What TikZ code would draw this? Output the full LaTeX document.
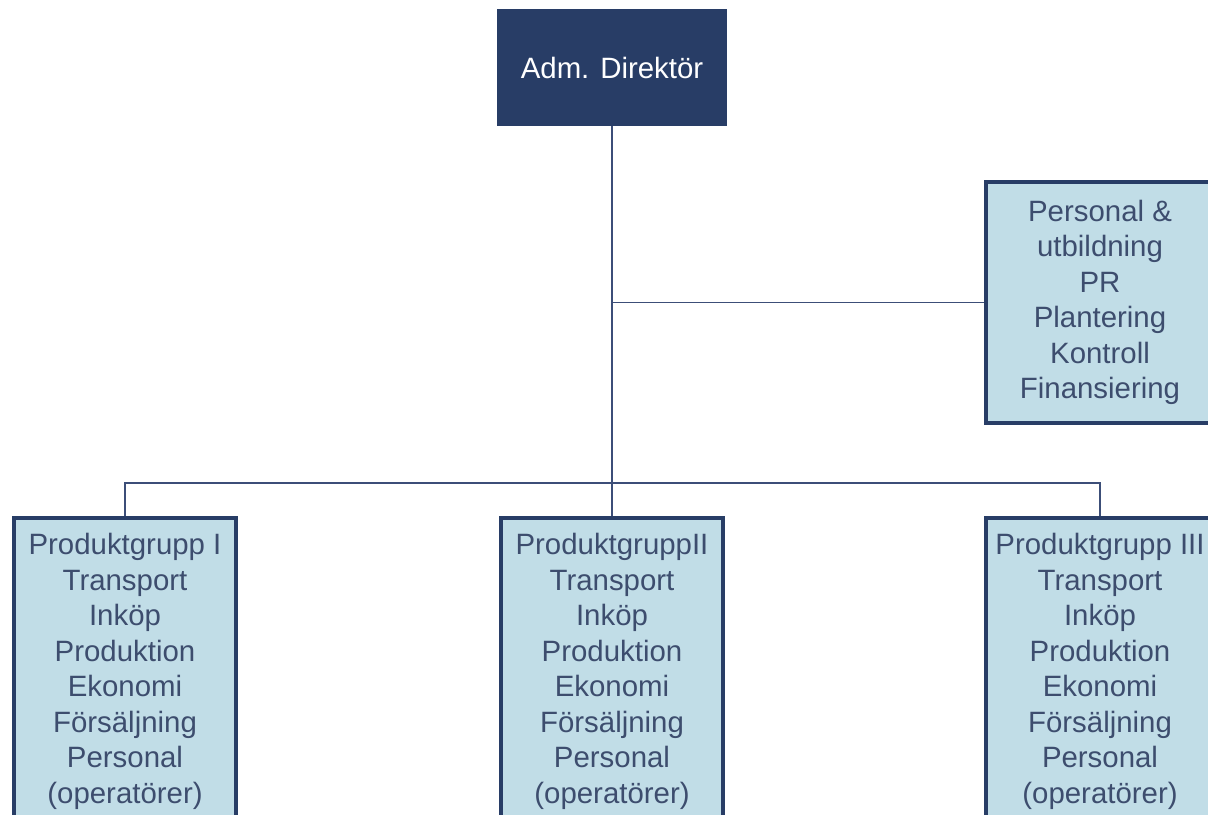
\documentclass[tikz,border=0pt]{standalone}
\usepackage{fontspec}
\setmainfont{Liberation Sans}
\definecolor{navy}{HTML}{283D66}
\definecolor{paleblue}{HTML}{C1DDE7}
\definecolor{inktext}{HTML}{3D4D6E}
\definecolor{wire}{HTML}{3C4E78}
\begin{document}
\begin{tikzpicture}[x=0.5pt,y=-0.5pt,
  boxfont/.style={font=\fontsize{14.7}{17.75}\selectfont},
  headbox/.style={boxfont, rectangle, fill=navy, text=white, draw=none,
    minimum width=115pt, minimum height=58.5pt, align=center},
  unitbox/.style={boxfont, rectangle, fill=paleblue, draw=navy, line width=2pt,
    text=inktext, minimum width=111pt, align=center, inner sep=0pt},
  link/.style={draw=wire, line width=0.8pt}]
  \clip (0,0) rectangle (1208,814);
  \fill[white] (0,0) rectangle (1208,814);

  % top management
  \node[headbox] (dir) at (612,67.5) {Adm. Direktör};

  % staff functions on the right
  \node[unitbox, minimum width=114pt, minimum height=120.5pt] (staff) at (1100,302.5)
    {Personal \&\\utbildning\\PR\\Plantering\\Kontroll\\Finansiering};

  % product groups
  \node[unitbox, minimum height=154pt] (pg1) at (125,671.5)
    {Produktgrupp I\\Transport\\Inköp\\Produktion\\Ekonomi\\Försäljning\\Personal\\(operatörer)};
  \node[unitbox, minimum height=154pt] (pg2) at (612,671.5)
    {ProduktgruppII\\Transport\\Inköp\\Produktion\\Ekonomi\\Försäljning\\Personal\\(operatörer)};
  \node[unitbox, minimum width=114pt, minimum height=154pt] (pg3) at (1100,671.5)
    {Produktgrupp III\\Transport\\Inköp\\Produktion\\Ekonomi\\Försäljning\\Personal\\(operatörer)};

  % junctions on the main line
  \coordinate (jstaff) at (dir.south |- staff.west);
  \coordinate (jbus) at (612,483);

  % connectors
  \draw[link] (dir.south) -- (jbus);
  \draw[link] (jstaff) -- (staff.west);
  \draw[link] (pg1.north) |- (jbus) -| (pg3.north);
  \draw[link] (jbus) -- (pg2.north);
\end{tikzpicture}
\end{document}
